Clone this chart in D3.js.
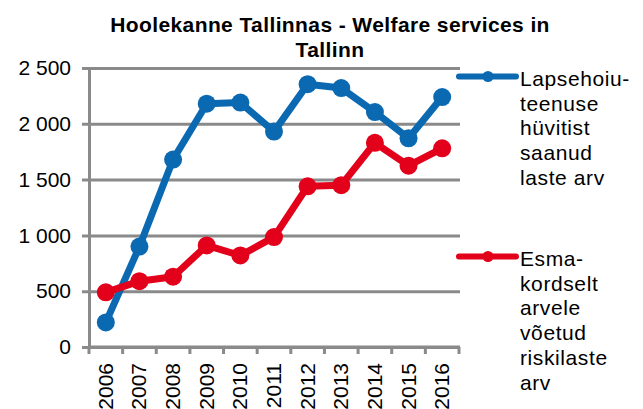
<!DOCTYPE html>
<html>
<head>
<meta charset="utf-8">
<script src="https://cdn.jsdelivr.net/npm/d3@7"></script>
<style>
  html, body { margin: 0; padding: 0; background: #fff; }
  svg { display: block; font-family: "Liberation Sans", Arial, sans-serif; }
</style>
</head>
<body>
<svg id="chart" width="643" height="409"></svg>
<script>
// Years on the category axis
const years = ["2006", "2007", "2008", "2009", "2010", "2011", "2012", "2013", "2014", "2015", "2016"];
// Children who received the childcare service benefit
const childcare = [220, 900, 1680, 2180, 2190, 1930, 2355, 2320, 2105, 1870, 2240];
// Children at risk registered for the first time
const atRisk = [490, 590, 630, 910, 820, 985, 1440, 1450, 1830, 1625, 1780];
// Value axis ticks
const yTicks = [0, 500, 1000, 1500, 2000, 2500];

const titleLines = ["Hoolekanne Tallinnas - Welfare services in", "Tallinn"];
const seriesNames = [
  ["Lapsehoiu-", "teenuse", "hüvitist", "saanud", "laste arv"],
  ["Esma-", "kordselt", "arvele", "võetud", "riskilaste", "arv"]
];
const colors = ["#0b69b2", "#e2001a"];
const gridColor = "#8a8a8a";

const svg = d3.select("#chart");
const m = { left: 89, right: 459, top: 68, bottom: 347 };

const x = d3.scaleBand().domain(years).range([m.left, m.right]);
const y = d3.scaleLinear().domain([0, 2500]).range([m.bottom, m.top]);

// Title
svg.append("g").selectAll("text").data(titleLines).join("text")
  .attr("x", 330)
  .attr("y", (d, i) => 31.5 + i * 25)
  .attr("text-anchor", "middle")
  .attr("font-size", 21)
  .attr("font-weight", "bold")
  .attr("letter-spacing", 0.4)
  .attr("fill", "#000")
  .text(d => d);

// Horizontal gridlines and value labels
const yAxis = d3.axisLeft(y).tickValues(yTicks)
  .tickSize(-(m.right - m.left))
  .tickFormat(d => d3.format(",")(d).replace(/,/g, "\u2009"))
  .tickPadding(18);
const gy = svg.append("g").attr("transform", `translate(${m.left},0)`).call(yAxis);
gy.select(".domain").attr("stroke", gridColor).attr("stroke-width", 3);
gy.selectAll(".tick line").attr("stroke", gridColor).attr("stroke-width", 3)
  .attr("x1", -7).attr("x2", m.right - m.left + 1);
gy.selectAll(".tick text").attr("font-size", 21).attr("fill", "#000")
  .attr("font-family", "'Liberation Sans', Arial, sans-serif")
  .text(d => d === 0 ? "0" : d3.format(",")(d).replace(/,/g, " "));

// Category axis with ticks between years
const gx = svg.append("g").attr("transform", `translate(0,${m.bottom})`);
gx.append("line").attr("x1", m.left).attr("x2", m.right + 1)
  .attr("stroke", gridColor).attr("stroke-width", 3);
const bounds = years.map(d => x(d)).concat([m.right]);
gx.selectAll("line.tk").data(bounds).join("line").attr("class", "tk")
  .attr("x1", d => d).attr("x2", d => d).attr("y1", 0).attr("y2", 7)
  .attr("stroke", gridColor).attr("stroke-width", 3);
gx.selectAll("text").data(years).join("text")
  .attr("transform", d => `translate(${x(d) + x.bandwidth() / 2 + 7},16) rotate(-90)`)
  .attr("text-anchor", "end")
  .attr("font-size", 21)
  .attr("fill", "#000")
  .text(d => d);

// Series lines with round markers
const series = [childcare, atRisk];
const line = d3.line().x((d, i) => x(years[i]) + x.bandwidth() / 2).y(d => y(d));
series.forEach((vals, s) => {
  const g = svg.append("g");
  g.append("path").datum(vals).attr("d", line)
    .attr("fill", "none").attr("stroke", colors[s]).attr("stroke-width", 7)
    .attr("stroke-linejoin", "round");
  g.selectAll("circle").data(vals).join("circle")
    .attr("cx", (d, i) => x(years[i]) + x.bandwidth() / 2)
    .attr("cy", d => y(d))
    .attr("r", 9)
    .attr("fill", colors[s]);
});

// Legend
const legendY = [76.5, 256.5];
seriesNames.forEach((lines, s) => {
  const g = svg.append("g").attr("transform", `translate(0,${legendY[s]})`);
  g.append("line").attr("x1", 459).attr("x2", 516).attr("y1", 0).attr("y2", 0)
    .attr("stroke", colors[s]).attr("stroke-width", 6).attr("stroke-linecap", "round");
  g.append("circle").attr("cx", 488).attr("cy", 0).attr("r", 5.5).attr("fill", colors[s]);
  g.selectAll("text").data(lines).join("text")
    .attr("x", 520)
    .attr("y", (d, i) => 9.5 + i * 24.7)
    .attr("font-size", 21)
    .attr("letter-spacing", 0.6)
    .attr("fill", "#000")
    .text(d => d);
});
</script>
</body>
</html>
